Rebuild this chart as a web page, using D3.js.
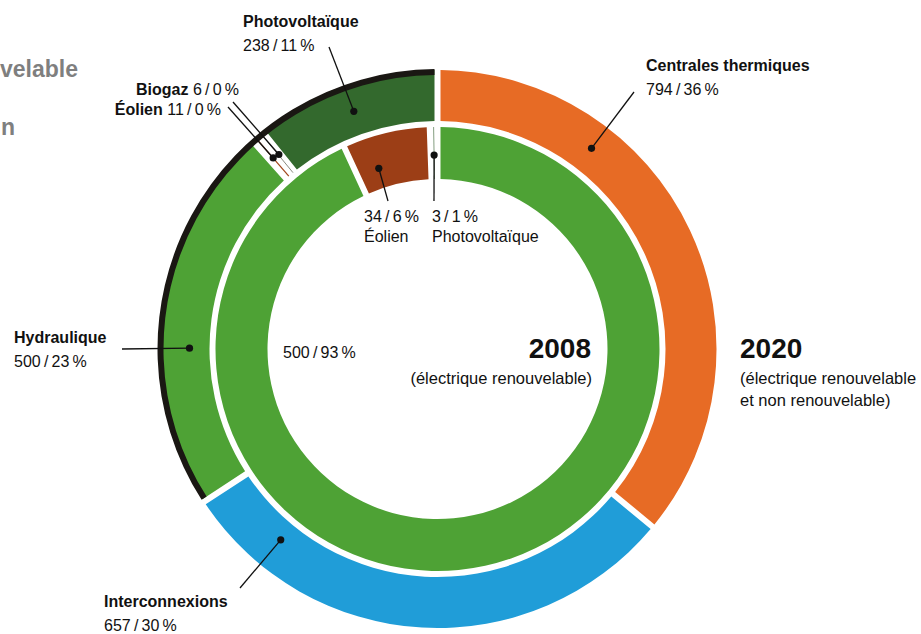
<!DOCTYPE html>
<html>
<head>
<meta charset="utf-8">
<script src="https://cdn.jsdelivr.net/npm/d3@7"></script>
<style>
  body { margin: 0; background: #fff; }
  svg { display: block; font-family: "Liberation Sans", Arial, sans-serif; }
  .name { font-weight: bold; font-size: 16px; fill: #111; }
  .val { font-size: 16px; fill: #111; }
  .year { font-weight: bold; font-size: 28px; fill: #111; }
  .sub { font-size: 16.5px; fill: #111; }
  .title { font-weight: bold; font-size: 23px; fill: #7f7f7f; }
</style>
</head>
<body>
<svg id="chart" width="921" height="634"></svg>
<script>
// ---- data: 2020 (outer ring) ----
const outerNames  = ['Centrales thermiques', 'Interconnexions', 'Hydraulique', 'Éolien', 'Biogaz', 'Photovoltaïque'];
const outerValues = [794, 657, 500, 11, 6, 238];
const outerPct    = [36, 30, 23, 0, 0, 11];
const outerColors = ['#e76b25', '#209dd8', '#4ea235', '#a0441a', '#3b3a2a', '#33692d'];

// ---- data: 2008 (inner ring) ----
const innerNames  = ['Hydraulique', 'Éolien', 'Photovoltaïque'];
const innerValues = [500, 34, 3];
const innerPct    = [93, 6, 1];
const innerColors = ['#4ea235', '#9c3e16', '#2f5a2a'];

// ---- layout ----
const cx = 437.5, cy = 349;
const R_OUT = [228, 279], R_IN = [170, 222];
const PAD_R = 250, PAD = 6 / PAD_R;
const THIN = 2.5 * Math.PI / 180;   // slices narrower than this are drawn as a hairline

const svg = d3.select('#chart');
const fmt = (v, p) => `${v}\u2009/\u2009${p}\u2009%`;
const pt = (deg, r) => {
  const a = deg * Math.PI / 180;
  return [cx + r * Math.sin(a), cy - r * Math.cos(a)];
};

// cropped title on the left edge
svg.append('text').attr('class', 'title').attr('x', 78).attr('y', 77).attr('text-anchor', 'end').text('velable');
svg.append('text').attr('class', 'title').attr('x', 15).attr('y', 135).attr('text-anchor', 'end').text('n');

// angles stay proportional; the white gaps are cut out by the arc generator
const pie = d3.pie().sort(null).value(d => d);
const outerArcs = pie(outerValues);
const innerArcs = pie(innerValues);

const g = svg.append('g').attr('transform', `translate(${cx},${cy})`);

function ring(arcs, radii, colors, cls) {
  const arc = d3.arc().innerRadius(radii[0]).outerRadius(radii[1]).padRadius(PAD_R).padAngle(PAD);
  const span = d => d.endAngle - d.startAngle;
  const wide = arcs.filter(d => span(d) >= THIN);
  const thin = arcs.filter(d => span(d) < THIN);
  g.selectAll('.' + cls).data(wide).enter()
    .append('path').attr('class', cls)
    .attr('d', arc)
    .attr('fill', d => colors[d.index]);
  g.selectAll('.' + cls + '-thin').data(thin).enter()
    .append('line').attr('class', cls + '-thin')
    .each(function (d) {
      const a = (d.startAngle + d.endAngle) / 2;
      d3.select(this)
        .attr('x1', radii[0] * Math.sin(a)).attr('y1', -radii[0] * Math.cos(a))
        .attr('x2', radii[1] * Math.sin(a)).attr('y2', -radii[1] * Math.cos(a));
    })
    .attr('stroke', d => colors[d.index])
    .attr('stroke-width', d => d.value > 8 ? 1.2 : 0.6);
}

ring(outerArcs, R_OUT, outerColors, 'seg-out');
ring(innerArcs, R_IN, innerColors, 'seg-in');

// black band over the renewable part of 2020 (hydraulique -> photovoltaïque)
const band = d3.arc().innerRadius(274).outerRadius(280).padRadius(PAD_R).padAngle(PAD);
g.append('path')
  .attr('d', band({ startAngle: outerArcs[2].startAngle, endAngle: outerArcs[5].endAngle }))
  .attr('fill', '#1a1713');

// ---- annotations: dot angle (deg from top), dot radius, leader end ----
const outerNotes = [
  { i: 0, deg: 37.5, r: 253, end: [634, 92], x: 646, y: 71, style: 'two' },
  { i: 1, deg: 219.4, r: 247, end: [240, 588], x: 104, y: 607, style: 'two' },
  { i: 2, deg: 270.2, r: 248, end: [122, 349], x: 14, y: 343, style: 'two' },
  { i: 3, deg: 319.3, r: 252, end: [228, 107], x: 221, y: 115, style: 'one' },
  { i: 4, deg: 320.8, r: 251, end: [233, 102], x: 239, y: 95, style: 'one' },
  { i: 5, deg: 340.6, r: 252, end: [329, 47], x: 243, y: 27, style: 'two' }
];
const innerNotes = [
  { i: 1, deg: 342.0, r: 190, end: [388, 201], x: 364, y: 222 },
  { i: 2, deg: 359.0, r: 194, end: [434, 201], x: 432, y: 222 }
];

function leader(n, p) {
  svg.append('line')
    .attr('x1', p[0]).attr('y1', p[1]).attr('x2', n.end[0]).attr('y2', n.end[1])
    .attr('stroke', '#111').attr('stroke-width', 1.3);
  svg.append('circle').attr('cx', p[0]).attr('cy', p[1]).attr('r', 3.6).attr('fill', '#111');
}

outerNotes.forEach(n => {
  leader(n, pt(n.deg, n.r));
  if (n.style === 'two') {
    svg.append('text').attr('class', 'name').attr('x', n.x).attr('y', n.y).text(outerNames[n.i]);
    svg.append('text').attr('class', 'val').attr('x', n.x).attr('y', n.y + 24).text(fmt(outerValues[n.i], outerPct[n.i]));
  } else {
    const t = svg.append('text').attr('x', n.x).attr('y', n.y).attr('text-anchor', 'end');
    t.append('tspan').attr('class', 'name').text(outerNames[n.i] + ' ');
    t.append('tspan').attr('class', 'val').text(fmt(outerValues[n.i], outerPct[n.i]));
  }
});

innerNotes.forEach(n => {
  leader(n, pt(n.deg, n.r));
  svg.append('text').attr('class', 'val').attr('x', n.x).attr('y', n.y).text(fmt(innerValues[n.i], innerPct[n.i]));
  svg.append('text').attr('class', 'val').attr('x', n.x).attr('y', n.y + 20).text(innerNames[n.i]);
});

// big inner share, no leader
svg.append('text').attr('class', 'val').attr('x', 283).attr('y', 358).text(fmt(innerValues[0], innerPct[0]));

// ---- year captions ----
svg.append('text').attr('class', 'year').attr('x', 591).attr('y', 358).attr('text-anchor', 'end').text('2008');
svg.append('text').attr('class', 'sub').attr('x', 592).attr('y', 384).attr('text-anchor', 'end').text('(électrique renouvelable)');
svg.append('text').attr('class', 'year').attr('x', 740).attr('y', 358).text('2020');
svg.append('text').attr('class', 'sub').attr('x', 740).attr('y', 384).text('(électrique renouvelable');
svg.append('text').attr('class', 'sub').attr('x', 740).attr('y', 406).text('et non renouvelable)');
</script>
</body>
</html>
